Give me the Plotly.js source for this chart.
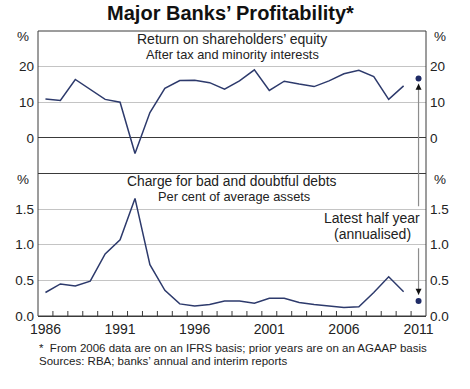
<!DOCTYPE html>
<html>
<head>
<meta charset="utf-8">
<script src="https://cdn.plot.ly/plotly-3.0.1.min.js"></script>
<style>
html,body{margin:0;padding:0;background:#fff;}
#chart{width:470px;height:389px;}
</style>
</head>
<body>
<div id="chart"></div>
<script>
// ---- data ----
var years = [1986,1987,1988,1989,1990,1991,1992,1993,1994,1995,1996,1997,1998,1999,2000,2001,2002,2003,2004,2005,2006,2007,2008,2009,2010];
var roe = [10.9,10.5,16.4,13.6,10.8,10.0,-4.4,7.1,13.9,16.1,16.2,15.5,13.7,16.0,19.1,13.3,15.9,15.1,14.4,16.0,18.0,19.0,17.2,10.8,14.6];
var badDebts = [0.33,0.45,0.42,0.49,0.87,1.07,1.65,0.72,0.36,0.17,0.14,0.16,0.21,0.21,0.18,0.25,0.25,0.19,0.16,0.14,0.12,0.13,0.33,0.55,0.34];
var latestYear = [2011];
var latestRoe = [16.7];
var latestBad = [0.21];
var xTickVals = [1986,1991,1996,2001,2006,2011];
var roeTicks = [0,10,20];
var badTicks = [0,0.5,1.0,1.5];

var FONT = 'Liberation Sans, Arial, Helvetica, sans-serif';
var LINE = '#2d3a6c';
var AX = '#3a3a3a';
var GRID = '#c4c4c4';
var TXT = '#222222';
var XRANGE = [1985.5, 2011.5];
var BAD_RANGE = [0, 2];
// year-boundary tick marks (short upward stubs from the bottom axis)
var yearBoundaries = years.map(function(y){ return y + 0.5; });
var tickLenPx = 5;
var bottomPanelPx = (389 - 31 - 73) / 2;
var tickLenUnits = tickLenPx * (BAD_RANGE[1] - BAD_RANGE[0]) / bottomPanelPx;
var tickX = [], tickY = [];
yearBoundaries.forEach(function(b){ tickX.push(b, b, null); tickY.push(0, tickLenUnits, null); });

var traces = [
  {x: years, y: roe, xaxis:'x2', yaxis:'y', type:'scatter', mode:'lines',
   line:{color:LINE, width:1.5}, hoverinfo:'skip'},
  {x: tickX, y: tickY, xaxis:'x', yaxis:'y2', type:'scatter', mode:'lines',
   line:{color:AX, width:1}, connectgaps:false, hoverinfo:'skip'},
  {x: years, y: badDebts, xaxis:'x', yaxis:'y2', type:'scatter', mode:'lines',
   line:{color:LINE, width:1.5}, hoverinfo:'skip'},
  {x: latestYear, y: latestRoe, xaxis:'x2', yaxis:'y3', type:'scatter', mode:'markers',
   marker:{color:'#1f2b66', size:6}, hoverinfo:'skip'},
  {x: latestYear, y: latestBad, xaxis:'x', yaxis:'y4', type:'scatter', mode:'markers',
   marker:{color:'#1f2b66', size:6}, hoverinfo:'skip'}
];

var tickFont = {family:FONT, size:13.5, color:TXT};

function yax(range, ticks, domain, side, overlay, xa, grid, zl, fmt){
  var a = {range:range, tickvals:ticks, domain:domain, side:side, anchor:xa,
    showgrid:grid, gridcolor:GRID, gridwidth:1, zeroline:zl, zerolinecolor:AX, zerolinewidth:1,
    showline:false, ticks:'', tickfont:tickFont, fixedrange:true, ticklabelstandoff:3};
  if (fmt) a.tickformat = fmt;
  if (overlay) a.overlaying = overlay;
  return a;
}

var layout = {
  width:470, height:389,
  margin:{l:38, r:44, t:31, b:73, pad:0},
  paper_bgcolor:'#ffffff', plot_bgcolor:'#ffffff',
  showlegend:false,
  font:{family:FONT, color:TXT},
  title:{text:'Major Banks’ Profitability*', x:0.496, xanchor:'center', xref:'paper',
    y:1-13/389, yanchor:'middle', yref:'container',
    font:{family:FONT, size:20, weight:700, color:'#111'}},
  // bottom panel x axis (line only)
  xaxis:{range:XRANGE, domain:[0,1], anchor:'y2', ticks:'', showticklabels:false,
    showline:true, linecolor:AX, linewidth:1, showgrid:false, zeroline:false, fixedrange:true},
  // year labels (centred on each year), drawn at the foot of the chart
  xaxis2:{range:XRANGE, domain:[0,1], anchor:'free', position:0, tickmode:'array', tickvals:xTickVals, ticks:'',
    showline:false, showgrid:false, zeroline:false, ticklabelstandoff:3,
    tickfont:{family:FONT, size:14, color:TXT}, fixedrange:true},
  yaxis: yax([-10,30], roeTicks, [0.5,1], 'left', null, 'x2', true, true),
  yaxis2: yax(BAD_RANGE, badTicks, [0,0.5], 'left', null, 'x', true, false, '.1f'),
  yaxis3: yax([-10,30], roeTicks, [0.5,1], 'right', 'y', 'x2', false, false),
  yaxis4: yax(BAD_RANGE, badTicks, [0,0.5], 'right', 'y2', 'x', false, false, '.1f'),
  shapes:[
    {type:'rect', xref:'paper', yref:'paper', x0:0, x1:1, y0:0, y1:1, line:{color:AX, width:1}, layer:'above'},
    {type:'line', xref:'paper', yref:'paper', x0:0, x1:1, y0:0.5, y1:0.5, line:{color:AX, width:1}, layer:'above'}
  ],
  annotations:[
    {text:'Return on shareholders’ equity', xref:'paper', yref:'paper', x:0.501, y:0.972, showarrow:false,
     xanchor:'center', yanchor:'middle', font:{family:FONT, size:14, color:TXT}},
    {text:'After tax and minority interests', xref:'paper', yref:'paper', x:0.501, y:0.916, showarrow:false,
     xanchor:'center', yanchor:'middle', font:{family:FONT, size:12.8, color:TXT}},
    {text:'Charge for bad and doubtful debts', xref:'paper', yref:'paper', x:0.5, y:(316-181.6)/285, showarrow:false,
     xanchor:'center', yanchor:'middle', font:{family:FONT, size:13.8, color:TXT}},
    {text:'Per cent of average assets', xref:'paper', yref:'paper', x:0.504, y:(316-196)/285, showarrow:false,
     xanchor:'center', yanchor:'middle', font:{family:FONT, size:12.8, color:TXT}},
    {text:'%', xref:'paper', yref:'paper', x:-0.017, y:(316-36.5)/285, showarrow:false,
     xanchor:'right', yanchor:'middle', font:{family:FONT, size:13.5, color:TXT}},
    {text:'%', xref:'paper', yref:'paper', x:1.015, y:(316-36.5)/285, showarrow:false,
     xanchor:'left', yanchor:'middle', font:{family:FONT, size:13.5, color:TXT}},
    {text:'%', xref:'paper', yref:'paper', x:-0.017, y:(316-179.5)/285, showarrow:false,
     xanchor:'right', yanchor:'middle', font:{family:FONT, size:13.5, color:TXT}},
    {text:'%', xref:'paper', yref:'paper', x:1.015, y:(316-179.5)/285, showarrow:false,
     xanchor:'left', yanchor:'middle', font:{family:FONT, size:13.5, color:TXT}},
    {text:'Latest half year', xref:'paper', yref:'paper', x:0.862, y:(316-217.7)/285, showarrow:false,
     xanchor:'center', yanchor:'middle', font:{family:FONT, size:14, color:TXT}},
    {text:'(annualised)', xref:'paper', yref:'paper', x:0.862, y:(316-234)/285, showarrow:false,
     xanchor:'center', yanchor:'middle', font:{family:FONT, size:14, color:TXT}},
    // arrows
    {text:'', x:2011, y:15.2, xref:'x2', yref:'y', ax:0, ay:124, showarrow:true,
     arrowhead:0, arrowwidth:1.2, arrowcolor:'#8d8d8d'},
    {text:'', x:2011, y:15.2, xref:'x2', yref:'y', ax:0, ay:7, showarrow:true,
     arrowhead:2, arrowsize:1.2, arrowwidth:1, arrowcolor:'#111'},
    {text:'', x:2011, y:0.30, xref:'x', yref:'y2', ax:0, ay:-48, showarrow:true,
     arrowhead:0, arrowwidth:1.2, arrowcolor:'#8d8d8d'},
    {text:'', x:2011, y:0.30, xref:'x', yref:'y2', ax:0, ay:-7, showarrow:true,
     arrowhead:2, arrowsize:1.2, arrowwidth:1, arrowcolor:'#111'},
    // footnotes
    {text:'*\u00a0\u00a0From 2006 data are on an IFRS basis; prior years are on an AGAAP basis', xref:'paper', yref:'paper',
     x:-1/388, y:(316-348)/285, showarrow:false, xanchor:'left', yanchor:'middle', align:'left',
     font:{family:FONT, size:11.5, color:TXT}},
    {text:'Sources: RBA; banks’ annual and interim reports', xref:'paper', yref:'paper',
     x:-1/388, y:(316-361)/285, showarrow:false, xanchor:'left', yanchor:'middle', align:'left',
     font:{family:FONT, size:11.5, color:TXT}}
  ]
};

Plotly.newPlot('chart', traces, layout, {staticPlot:true, displayModeBar:false});
</script>
</body>
</html>
